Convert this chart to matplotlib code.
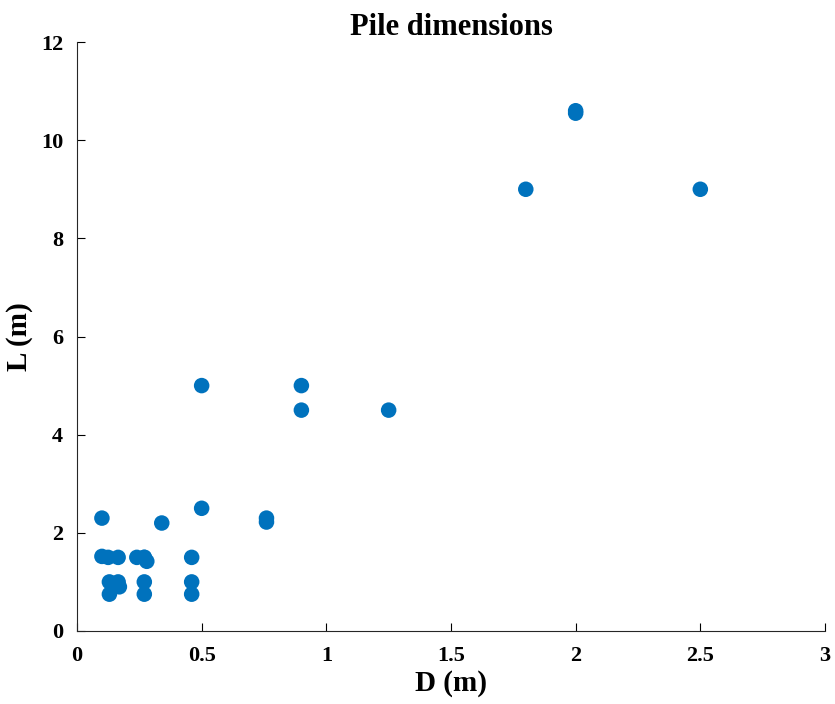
import matplotlib
matplotlib.use("Agg")
import matplotlib.pyplot as plt

# pile diameter D (m) and length L (m)
D = [0.1, 0.1, 0.125, 0.13, 0.13, 0.165, 0.165, 0.17, 0.24, 0.27, 0.27, 0.28, 0.27, 0.27,
     0.34, 0.46, 0.46, 0.46, 0.5, 0.5, 0.76, 0.76, 0.9, 0.9, 1.25, 1.8, 2.0, 2.0, 2.5]
L = [2.3, 1.52, 1.5, 1.0, 0.75, 1.5, 1.0, 0.9, 1.5, 1.5, 1.0, 1.42, 0.75, 1.5,
     2.2, 1.5, 1.0, 0.75, 2.5, 5.0, 2.3, 2.22, 5.0, 4.5, 4.5, 9.0, 10.6, 10.55, 9.0]

xticks = [0, 0.5, 1, 1.5, 2, 2.5, 3]
xticklabels = ['0', '0.5', '1', '1.5', '2', '2.5', '3']
yticks = [0, 2, 4, 6, 8, 10, 12]

plt.rcParams['font.family'] = ['Liberation Serif', 'DejaVu Serif']
plt.rcParams['font.weight'] = 'bold'

fig = plt.figure(figsize=(8.35, 7.04), dpi=100)
ax = fig.add_axes([0.0922, 0.1037, 0.8958, 0.8366])

ax.scatter(D, L, s=125, color='#0072BD', edgecolors='none', zorder=3)

ax.set_xlim(0, 3)
ax.set_ylim(0, 12)
ax.set_xticks(xticks)
ax.set_xticklabels(xticklabels)
ax.set_yticks(yticks)
ax.tick_params(direction='in', length=6, width=0.8, labelsize=16)
ax.tick_params(axis='x', pad=11)
ax.tick_params(axis='y', pad=10)
for lab in ax.get_xticklabels() + ax.get_yticklabels():
    lab.set_fontweight('bold')

ax.spines['top'].set_visible(False)
ax.spines['right'].set_visible(False)
ax.spines['left'].set_color('#262626')
ax.spines['bottom'].set_color('#262626')

ax.set_xlabel('D (m)', fontsize=21, fontweight='bold', labelpad=3)
ax.set_ylabel('L (m)', fontsize=21, fontweight='bold', labelpad=6)
ax.set_title('Pile dimensions', fontsize=22, fontweight='bold', pad=4)

fig.savefig('out.png', dpi=100)
